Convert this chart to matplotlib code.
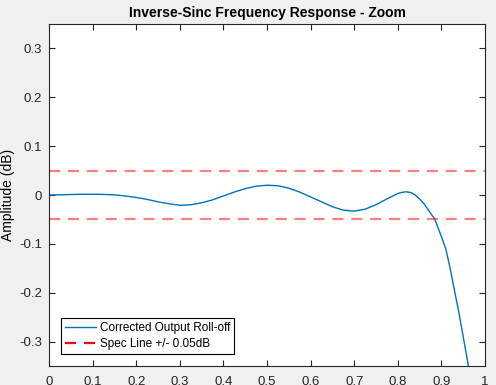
import numpy as np
import matplotlib
matplotlib.use("Agg")
import matplotlib.pyplot as plt

plt.rcParams['font.family'] = ['Liberation Sans', 'DejaVu Sans']

# values
freq = [0, 0.025, 0.05, 0.075, 0.1, 0.125, 0.15, 0.175, 0.2, 0.225, 0.25, 0.275,
        0.3, 0.325, 0.35, 0.375, 0.4, 0.425, 0.45, 0.475, 0.5, 0.525, 0.55, 0.575,
        0.6, 0.625, 0.65, 0.675, 0.7, 0.725, 0.75, 0.775, 0.8, 0.81, 0.82, 0.83,
        0.84, 0.85, 0.86, 0.875, 0.885, 0.9, 0.91, 0.92, 0.931, 0.94, 0.952, 0.962, 0.97]
amp = [0, 0.0003, 0.001, 0.0014, 0.0015, 0.0012, 0.0003, -0.002, -0.005, -0.009, -0.014, -0.018,
       -0.021, -0.020, -0.016, -0.010, -0.002, 0.006, 0.013, 0.018, 0.020, 0.019, 0.014, 0.006,
       -0.004, -0.014, -0.024, -0.031, -0.033, -0.029, -0.020, -0.008, 0.003, 0.0055, 0.0065, 0.005,
       0.000, -0.008, -0.018, -0.037, -0.050, -0.085, -0.11, -0.15, -0.20, -0.24, -0.30, -0.35, -0.39]
spec_hi = 0.05
spec_lo = -0.05

fig = plt.figure(figsize=(4.96, 3.85), dpi=100, facecolor='#f0f0f0')
ax = fig.add_axes([49/496, 19/385, 436/496, 342/385])

ax.plot(freq, amp, color='#0072BD', lw=1.0, label='Corrected Output Roll-off')
ax.axhline(spec_hi, color='red', alpha=0.5, lw=1.6, ls=(0, (5, 3.5)), label='Spec Line +/- 0.05dB')
ax.axhline(spec_lo, color='red', alpha=0.5, lw=1.6, ls=(0, (5, 3.5)))

ax.set_xlim(0, 1)
ax.set_ylim(-0.35, 0.35)
ax.set_xticks(np.arange(0, 1.01, 0.1))
ax.set_xticklabels(['0', '0.1', '0.2', '0.3', '0.4', '0.5', '0.6', '0.7', '0.8', '0.9', '1'])
ax.set_yticks([-0.3, -0.2, -0.1, 0, 0.1, 0.2, 0.3])
ax.set_yticklabels(['-0.3', '-0.2', '-0.1', '0', '0.1', '0.2', '0.3'])
ax.tick_params(direction='in', top=True, right=True, length=4, width=0.8,
               labelsize=9.5, colors='#262626', pad=5)
ax.tick_params(axis='x', pad=7)
for s in ax.spines.values():
    s.set_color('#262626')
    s.set_linewidth(0.8)

ax.set_title('Inverse-Sinc Frequency Response - Zoom', fontsize=10, fontweight='bold', pad=5)
ax.set_ylabel('Amplitude (dB)', fontsize=10, labelpad=3)

leg = ax.legend(loc='lower left', bbox_to_anchor=(0.028, 0.035), fontsize=8.5,
                fancybox=False, edgecolor='black', framealpha=1, borderpad=0.35,
                handlelength=2.6, handletextpad=0.3, labelspacing=0.3, borderaxespad=0)
leg.get_frame().set_linewidth(0.8)
for h in leg.legend_handles:
    h.set_alpha(1)

fig.savefig('out.png', dpi=100, facecolor=fig.get_facecolor())
